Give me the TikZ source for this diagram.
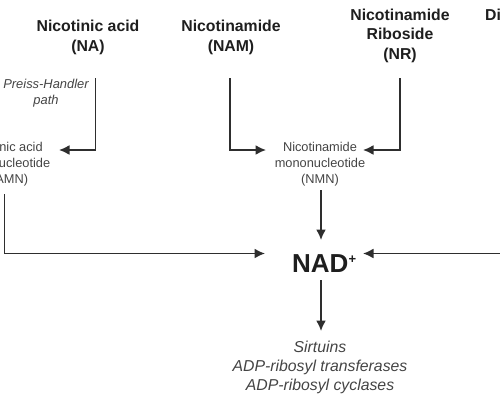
\documentclass[tikz,border=0pt]{standalone}
\usepackage{fontspec}
\setmainfont{Liberation Sans}
\usetikzlibrary{arrows.meta}
\definecolor{ink}{HTML}{1E1E1E}
\definecolor{txtgray}{HTML}{444444}
\definecolor{linegray}{HTML}{2E2E2E}
\begin{document}
\begin{tikzpicture}[x=1pt,y=-1pt,
  title/.style={font=\fontsize{15.8}{19.5}\selectfont\bfseries, text=ink, align=center, inner sep=0pt},
  small/.style={font=\fontsize{12.8}{16}\selectfont, text=txtgray, align=center, inner sep=0pt},
  note/.style={font=\fontsize{12.9}{16}\selectfont\itshape, text=txtgray, align=center, inner sep=0pt},
  outtext/.style={font=\fontsize{15.8}{19}\selectfont\itshape, text=txtgray, align=center, inner sep=0pt},
  conn/.style={draw=linegray, line width=1.7pt},
  arr/.style={conn, -{Latex[length=10.5pt,width=10pt]}}]
\useasboundingbox (0,0) rectangle (500,400);
\clip (0,0) rectangle (500,400);
% nodes
\node[title] (NA) at (88,37.5) {Nicotinic acid\\(NA)};
\node[title] (NAM) at (231,37.5) {Nicotinamide\\(NAM)};
\node[title] (NR) at (400,35.5) {Nicotinamide\\Riboside\\(NR)};
\node[title, anchor=base west] (DI) at (485,20.5) {Di};
\node[note] (PH) at (46,93) {Preiss-Handler\\path};
\node[small] (NaMN) at (5,164) {Nicotinic acid\\mononucleotide\\(NAMN)};
\node[small] (NMN) at (320,164) {Nicotinamide\\mononucleotide\\(NMN)};
\node[font=\fontsize{26}{26}\selectfont\bfseries, text=ink, inner sep=0pt, anchor=base west] (NAD) at (292,272) {NAD\raisebox{8.5pt}{\fontsize{13}{13}\selectfont +}};
\node[outtext] (OUT) at (320,367.5) {Sirtuins\\ADP-ribosyl transferases\\ADP-ribosyl cyclases};
% connector end points
\coordinate (naTop) at (95.5,78);
\coordinate (namnIn) at (59,150);
\coordinate (namTop) at (230,78);
\coordinate (nmnInL) at (266,150);
\coordinate (nrTop) at (400,78);
\coordinate (nmnInR) at (363,150);
\coordinate (nmnOut) at (321,190);
\coordinate (nadTop) at (321,240);
\coordinate (namnOut) at (4.5,194);
\coordinate (nadInL) at (265,253.5);
\coordinate (rightEdge) at (501,253.5);
\coordinate (nadInR) at (363,253.5);
\coordinate (nadOut) at (321,280);
\coordinate (outIn) at (321,331);
% connectors
\draw[arr] (naTop) |- (namnIn);
\draw[arr] (namTop) |- (nmnInL);
\draw[arr] (nrTop) |- (nmnInR);
\draw[arr] (nmnOut) -- (nadTop);
\draw[arr] (namnOut) |- (nadInL);
\draw[arr] (rightEdge) -- (nadInR);
\draw[arr] (nadOut) -- (outIn);
\end{tikzpicture}
\end{document}
